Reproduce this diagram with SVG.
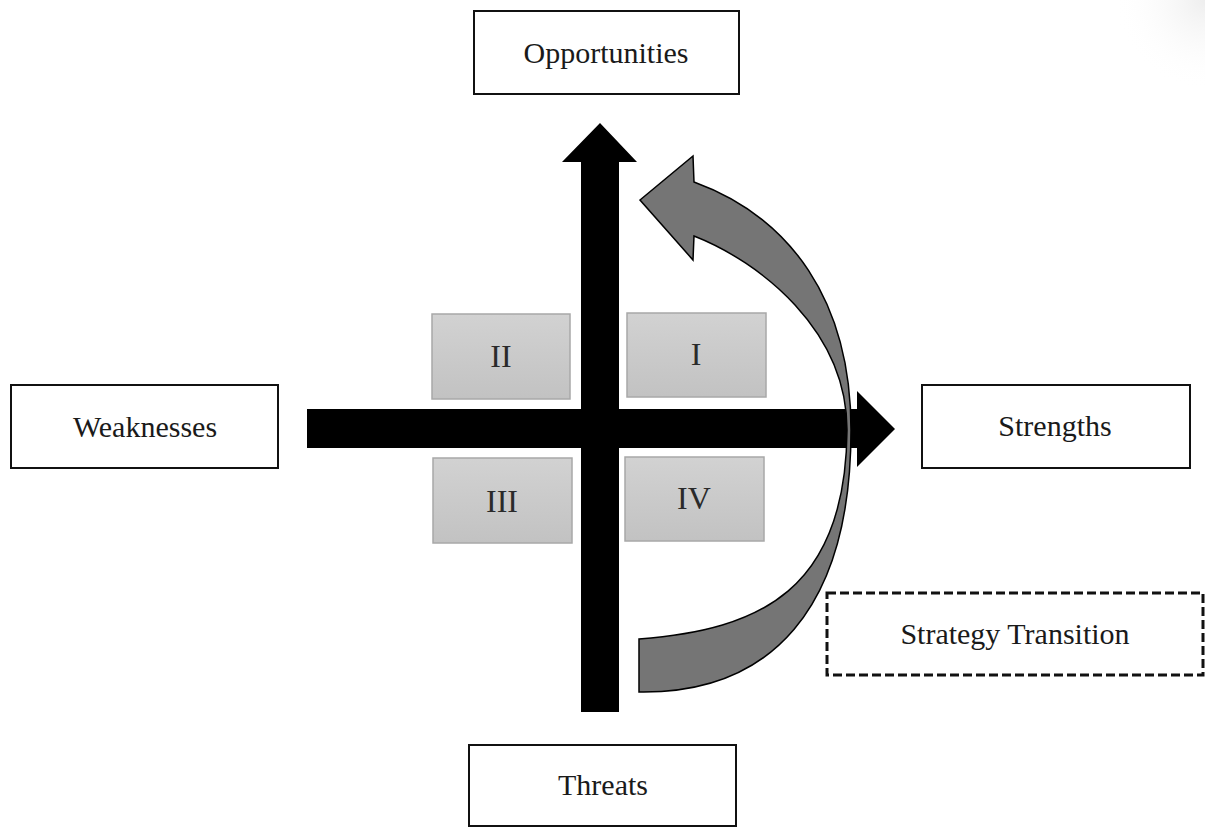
<svg xmlns="http://www.w3.org/2000/svg" width="1205" height="827" viewBox="0 0 1205 827">
  <defs>
    <linearGradient id="quadFill" x1="0" y1="0" x2="0" y2="1">
      <stop offset="0" stop-color="#d2d2d2"/>
      <stop offset="1" stop-color="#c2c2c2"/>
    </linearGradient>
    <radialGradient id="cornerShade" cx="1205" cy="0" r="90" gradientUnits="userSpaceOnUse">
      <stop offset="0" stop-color="#eeeeee"/>
      <stop offset="1" stop-color="#ffffff" stop-opacity="0"/>
    </radialGradient>
    <style>
      .box { fill: #ffffff; stroke: #111111; stroke-width: 2; }
      .quad { fill: url(#quadFill); stroke: #a8a8a8; stroke-width: 1.5; }
      .label { font-family: "Liberation Serif", "Times New Roman", serif; font-size: 30px; fill: #1a1a1a; text-anchor: middle; }
      .num { font-family: "Liberation Serif", "Times New Roman", serif; font-size: 32px; fill: #2a2a2a; text-anchor: middle; }
      .axis { fill: #000000; }
      .curve { fill: #757575; stroke: #000000; stroke-width: 1.5; stroke-linejoin: miter; }
      .dashed { fill: #ffffff; stroke: #111111; stroke-width: 3; stroke-dasharray: 9 4; }
    </style>
  </defs>
  <rect x="0" y="0" width="1205" height="827" fill="#ffffff"/>
  <rect x="1110" y="0" width="95" height="95" fill="url(#cornerShade)"/>

  <g id="opportunities">
    <rect class="box" x="474" y="11" width="265" height="83"/>
    <text class="label" x="606" y="63">Opportunities</text>
  </g>
  <g id="weaknesses">
    <rect class="box" x="11" y="385" width="267" height="83"/>
    <text class="label" x="145" y="437">Weaknesses</text>
  </g>
  <g id="strengths">
    <rect class="box" x="922" y="385" width="268" height="83"/>
    <text class="label" x="1055" y="436">Strengths</text>
  </g>
  <g id="threats">
    <rect class="box" x="469" y="745" width="267" height="81"/>
    <text class="label" x="603" y="795">Threats</text>
  </g>

  <g id="quadrant-II">
    <rect class="quad" x="432" y="314" width="138" height="85"/>
    <text class="num" x="501" y="367">II</text>
  </g>
  <g id="quadrant-I">
    <rect class="quad" x="627" y="313" width="139" height="84"/>
    <text class="num" x="696" y="365">I</text>
  </g>
  <g id="quadrant-III">
    <rect class="quad" x="433" y="458" width="139" height="85"/>
    <text class="num" x="502" y="512">III</text>
  </g>
  <g id="quadrant-IV">
    <rect class="quad" x="625" y="457" width="139" height="84"/>
    <text class="num" x="694" y="509">IV</text>
  </g>

  <g id="connectors">
    <polygon class="axis" points="581,712 581,162 562,162 600,123 637,162 619,162 619,712"/>
    <polygon class="axis" points="307,409 857,409 857,391 895,429 857,467 857,448 307,448"/>
    <path class="curve" d="M639,692 C770,694 851,610 851,430 C851,300 790,217 694,182 L693,156 L640,200 L693,260 L694,236 C760,262 847,330 847,430 C846,590 760,630 639,639 Z"/>
  </g>

  <g id="strategy-transition">
    <rect class="dashed" x="827" y="593" width="376" height="82"/>
    <text class="label" x="1015" y="644">Strategy Transition</text>
  </g>
</svg>
